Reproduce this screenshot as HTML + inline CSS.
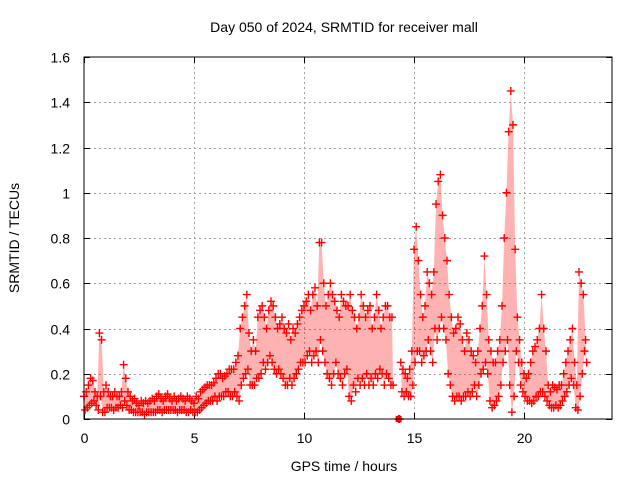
<!DOCTYPE html>
<html><head><meta charset="utf-8"><style>
html,body{margin:0;padding:0;background:#fff;}
svg{display:block;font-family:"Liberation Sans",sans-serif;}
</style></head><body>
<svg id="chart" width="640" height="480">
<text x="344" y="32" font-size="14" text-anchor="middle">Day 050 of 2024, SRMTID for receiver mall</text>
<text x="344" y="471" font-size="14" text-anchor="middle">GPS time / hours</text>
<text x="19" y="238" font-size="14" text-anchor="middle" transform="rotate(-90 19 238)">SRMTID / TECUs</text>
<g id="grid"></g>
<g id="ticks"></g>
<g id="band"></g>
<g id="marks"></g>
<rect x="84" y="57" width="528" height="362" fill="none" stroke="#000" stroke-width="1"/>
</svg>
<script>
const xTicks=[0,5,10,15,20];
const yTicks=[0,0.2,0.4,0.6,0.8,1,1.2,1.4,1.6];
const yTickLabels=["0","0.2","0.4","0.6","0.8","1","1.2","1.4","1.6"];
const tStart=0, tStep=0.1;
const hiVals=[
.10,.12,.15,.18,.17,.12,.10,.38,.35,.12,
.15,.12,.10,.10,.12,.10,.10,.12,.24,.18,
.12,.10,.08,.09,.07,.06,.08,.07,.08,.07,
.08,.09,.08,.10,.11,.09,.08,.10,.11,.09,
.08,.10,.08,.09,.10,.09,.08,.10,.09,.08,
.07,.10,.09,.12,.13,.14,.15,.15,.15,.16,
.18,.20,.20,.18,.19,.20,.22,.22,.22,.25,
.28,.40,.45,.50,.55,.38,.30,.35,.30,.45,
.48,.50,.45,.40,.48,.52,.50,.45,.40,.42,
.45,.40,.38,.42,.35,.40,.38,.42,.45,.48,
.50,.52,.55,.48,.55,.58,.50,.78,.78,.60,
.50,.55,.60,.55,.52,.48,.45,.55,.52,.50,
.50,.55,.48,.45,.40,.45,.55,.50,.45,.48,
.50,.40,.45,.55,.48,.40,.45,.50,.50,.45,
.45,null,null,0.0,.25,.22,.20,.18,.22,.30,
.75,.85,.70,.55,.45,.50,.65,.60,.55,.65,
.95,1.05,1.08,.90,.80,.70,.55,.45,.38,.40,
.45,.42,.35,.30,.38,.35,.30,.28,.25,.30,
.40,.50,.72,.55,.35,.30,.25,.25,.30,.35,
.50,.80,1.0,1.27,1.45,1.30,.75,.45,.35,.25,
.20,.18,.20,.25,.30,.32,.35,.40,.55,.40,
.30,.15,.12,.15,.14,.13,.15,.15,.20,.25,
.30,.35,.40,.25,.15,.65,.60,.55,.35];
const loVals=[
.04,.05,.06,.07,.08,.06,.04,.10,.03,.03,
.05,.05,.05,.04,.05,.05,.06,.05,.08,.06,
.04,.04,.03,.03,.03,.03,.03,.02,.03,.03,
.03,.03,.03,.04,.04,.03,.04,.04,.04,.04,
.04,.04,.03,.04,.04,.04,.03,.03,.04,.03,
.03,.03,.04,.05,.06,.07,.08,.08,.08,.10,
.08,.10,.10,.10,.12,.12,.10,.10,.12,.10,
.08,.15,.18,.20,.22,.15,.15,.15,.18,.18,
.20,.25,.22,.25,.28,.25,.22,.20,.22,.20,
.18,.15,.15,.18,.15,.18,.20,.22,.25,.25,
.25,.28,.30,.25,.28,.30,.25,.35,.30,.25,
.20,.18,.15,.20,.25,.20,.18,.15,.20,.22,
.10,.08,.15,.12,.18,.15,.18,.15,.20,.15,
.18,.15,.20,.18,.22,.20,.15,.20,.18,.15,
.15,null,null,0.0,.12,.10,.12,.10,.10,.15,
.25,.30,.30,.25,.28,.30,.35,.30,.25,.40,
.35,.40,.45,.40,.35,.20,.15,.10,.08,.10,
.10,.08,.10,.10,.12,.10,.12,.15,.10,.15,
.20,.22,.25,.20,.08,.05,.06,.08,.10,.15,
.25,.30,.35,.15,.03,.10,.30,.25,.15,.12,
.10,.08,.08,.07,.08,.10,.10,.12,.12,.10,
.08,.06,.05,.05,.06,.05,.06,.08,.10,.12,
.15,.18,.15,.05,.04,.10,.20,.30,.25];

const NS="http://www.w3.org/2000/svg";
const X0=84,X1=612,Y0=419,Y1=57;
function xs(t){return X0+(t-0)/24*(X1-X0);}
function ys(v){return Y0-(v-0)/1.6*(Y0-Y1);}
const grid=document.getElementById('grid'),ticks=document.getElementById('ticks'),marks=document.getElementById('marks'),band=document.getElementById('band');
function mk(tag,attrs,parent){const e=document.createElementNS(NS,tag);for(const k in attrs)e.setAttribute(k,attrs[k]);parent.appendChild(e);return e;}
xTicks.forEach((t,i)=>{
  const x=Math.round(xs(t))+0.5;
  if(i>0){const g=mk('line',{x1:x,x2:x,y1:Y1,y2:Y0,stroke:'#a0a0a0','stroke-dasharray':'2,3'},grid);
  
  }
  const tk=mk('path',{d:`M${x} ${Y0}v-6M${x} ${Y1}v6`,stroke:'#000'},ticks);
  
  
  const l=mk('text',{x:x,y:443,'font-size':14,'text-anchor':'middle'},ticks);l.textContent=t;
  
  
});
yTicks.forEach((v,i)=>{
  const y=Math.round(ys(v))+0.5;
  if(i>0&&i<yTicks.length-1){const g=mk('line',{x1:X0,x2:X1,y1:y,y2:y,stroke:'#a0a0a0','stroke-dasharray':'2,3'},grid);
  
  }
  const tk=mk('path',{d:`M${X0} ${y}h6M${X1} ${y}h-6`,stroke:'#000'},ticks);
  
  
  const l=mk('text',{x:70,y:y+5,'font-size':14,'text-anchor':'end'},ticks);l.textContent=yTickLabels[i];
  
  
});
let seg=[];
function flush(){
  if(seg.length>1){
    const top=seg.map(i=>`${xs(tStart+i*tStep).toFixed(1)},${ys(hiVals[i]).toFixed(1)}`);
    const bot=seg.slice().reverse().map(i=>`${xs(tStart+i*tStep+0.05).toFixed(1)},${ys(loVals[i]).toFixed(1)}`);
    const p=mk('polygon',{points:top.concat(bot).join(' '),fill:'#ff0000','fill-opacity':0.3,stroke:'none'},band);
    
    
  }
  seg=[];
}
hiVals.forEach((v,i)=>{if(v===null||v===0){flush();}else seg.push(i);});
flush();
function plus(t,v){
  const x=xs(t),y=ys(v);
  const p=mk('path',{d:`M${x-4} ${y}h8M${x} ${y-4}v8`,stroke:'#ff0000','stroke-width':1.4},marks);
  
  
}
hiVals.forEach((v,i)=>{if(v!==null)plus(tStart+i*tStep,v);});
loVals.forEach((v,i)=>{if(v!==null)plus(tStart+i*tStep+0.05,v);});
const sq=mk('rect',{x:xs(14.3)-3,y:ys(0)-3,width:6,height:6,fill:'#ff0000'},marks);


</script>
</body></html>
